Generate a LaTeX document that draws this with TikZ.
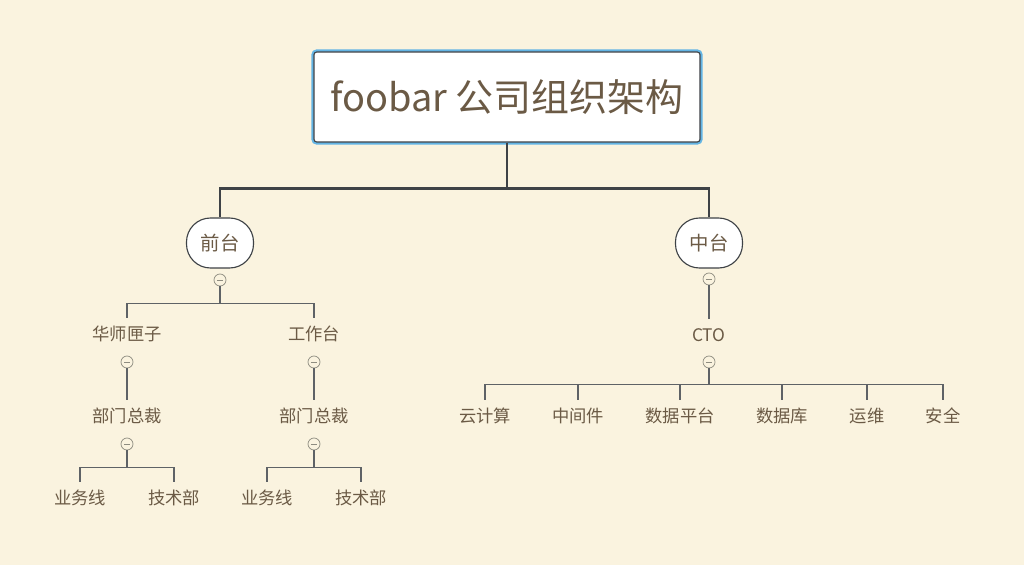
\documentclass[tikz,border=0pt]{standalone}
\usepackage{fontspec}
\setmainfont{Noto Sans CJK SC}
\usetikzlibrary{positioning}
\definecolor{Paper}{HTML}{FAF3DF}
\definecolor{Ink}{HTML}{6B5A45}
\definecolor{Wire}{HTML}{3E4246}
\definecolor{Twig}{HTML}{5E6266}
\definecolor{Glow}{HTML}{62B4E4}
\definecolor{Knob}{HTML}{8E8C80}

\begin{document}
\begin{tikzpicture}[x=0.025cm, y=-0.025cm,
    root/.style={rectangle, rounded corners=2pt, fill=white, draw=Wire, line width=0.8pt,
                 minimum width=9.65cm, minimum height=2.25cm,
                 font=\fontsize{27}{32}\selectfont, text=Ink,
                 preaction={draw=Glow, line width=3.6pt}},
    topic/.style={rectangle, rounded corners=0.6cm, fill=white, draw=Wire, line width=0.8pt,
                  minimum width=1.675cm, minimum height=1.25cm,
                  font=\fontsize{13.8}{16}\selectfont, text=Ink},
    leaf/.style={inner sep=0pt, minimum height=0.8cm, font=\fontsize{12.3}{14}\selectfont, text=Ink},
    knob/.style={circle, draw=Knob, fill=Paper, line width=0.5pt, minimum size=0.3cm, inner sep=0pt,
                 path picture={\draw[Knob, line width=0.5pt]
                   ([xshift=-0.08cm]path picture bounding box.center) --
                   ([xshift=0.08cm]path picture bounding box.center);}},
    trunk/.style={draw=Wire, line width=2pt},
    branch/.style={draw=Twig, line width=1.2pt}
]
    \fill[Paper] (0,0) rectangle (1024,565);

    % Root
    \node[root] (root) at (507,97) {foobar 公司组织架构};

    % Main topics
    \node[topic] (front) at (220,243) {前台};
    \node[topic] (middle) at (709,243) {中台};
    \draw[trunk] (root.south) -- ++(0,46) -| (front.north);
    \draw[trunk] (root.south) -- ++(0,46) -| (middle.north);

    % Front office
    \node[knob] (kFront) at (220,280) {};
    \node[leaf] (huashi) at (127,334) {华师匣子};
    \node[leaf] (desk) at (314,334) {工作台};
    \draw[branch] (kFront.south) -- ++(0,17) -| (huashi.north);
    \draw[branch] (kFront.south) -- ++(0,17) -| (desk.north);

    \node[knob] (kHuashi) at (127,362) {};
    \node[knob] (kDesk) at (314,362) {};
    \node[leaf] (hsHead) at (127,416) {部门总裁};
    \node[leaf] (dkHead) at (314,416) {部门总裁};
    \draw[branch] (kHuashi.south) -- (hsHead.north);
    \draw[branch] (kDesk.south) -- (dkHead.north);

    \node[knob] (kHsHead) at (127,444) {};
    \node[knob] (kDkHead) at (314,444) {};
    \node[leaf] (hsBiz) at (80,498) {业务线};
    \node[leaf] (hsTech) at (174,498) {技术部};
    \node[leaf] (dkBiz) at (267,498) {业务线};
    \node[leaf] (dkTech) at (361,498) {技术部};
    \draw[branch] (kHsHead.south) -- ++(0,17) -| (hsBiz.north);
    \draw[branch] (kHsHead.south) -- ++(0,17) -| (hsTech.north);
    \draw[branch] (kDkHead.south) -- ++(0,17) -| (dkBiz.north);
    \draw[branch] (kDkHead.south) -- ++(0,17) -| (dkTech.north);

    % Middle office
    \node[knob] (kMiddle) at (709,279) {};
    \node[leaf] (cto) at (709,335) {CTO};
    \draw[branch] (kMiddle.south) -- (cto.north);

    \node[knob] (kCto) at (709,362) {};
    \node[leaf] (cloud) at (485,416) {云计算};
    \node[leaf] (mware) at (578,416) {中间件};
    \node[leaf] (dplat) at (680,416) {数据平台};
    \node[leaf] (dbase) at (782,416) {数据库};
    \node[leaf] (ops) at (867,416) {运维};
    \node[leaf] (sec) at (943,416) {安全};
    \foreach \kid in {cloud, mware, dplat, dbase, ops, sec}
        \draw[branch] (kCto.south) -- ++(0,16) -| (\kid.north);
\end{tikzpicture}
\end{document}
